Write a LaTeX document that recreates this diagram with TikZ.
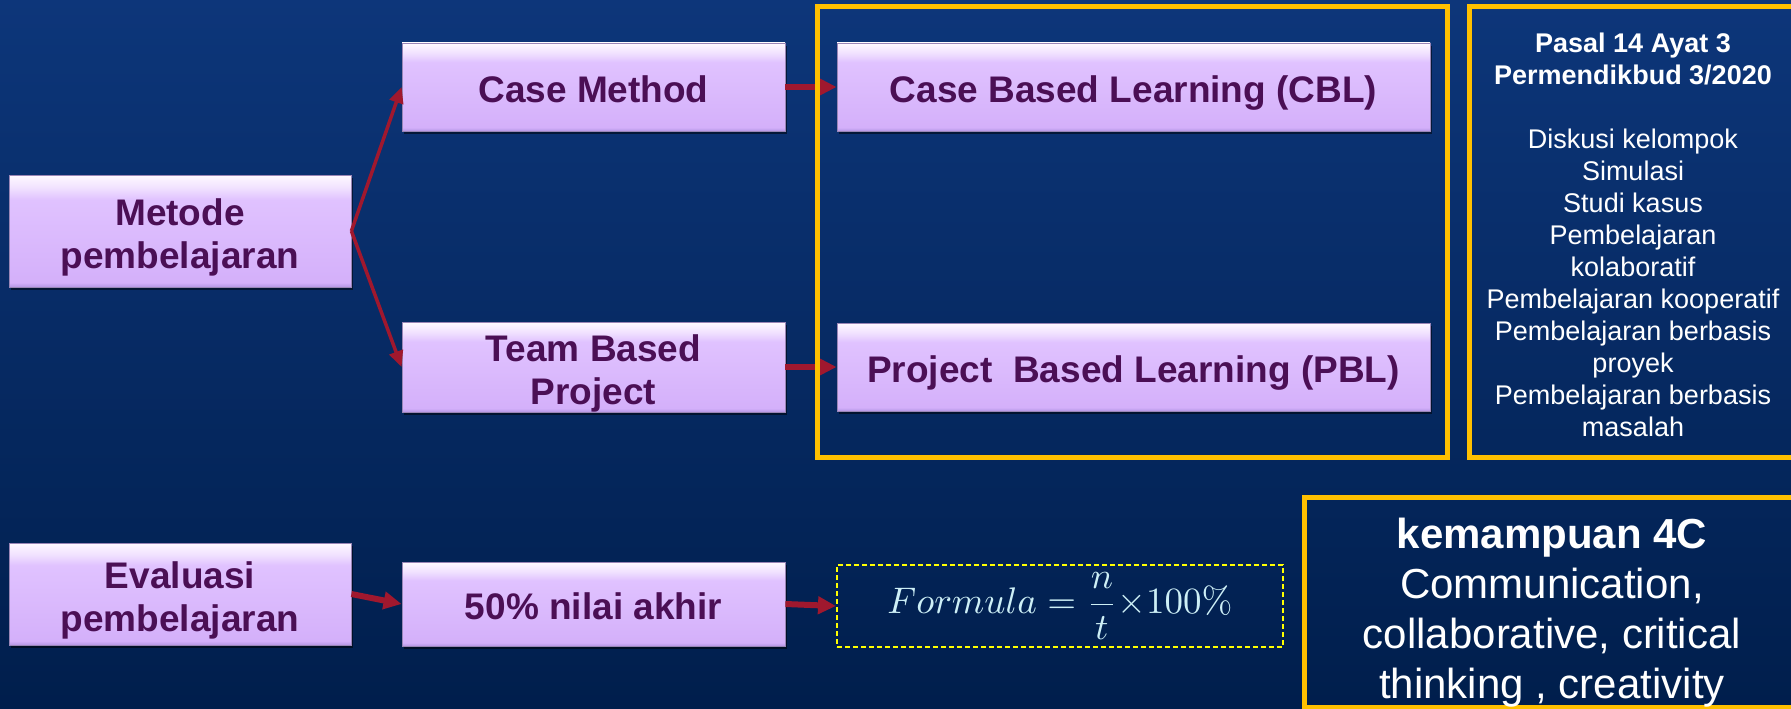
\documentclass[tikz,border=0pt]{standalone}
\usepackage[no-math]{fontspec}
\setmainfont{Liberation Sans}
\usepackage{graphicx}
\usetikzlibrary{arrows.meta,shadows}
\definecolor{bgtop}{HTML}{0D367A}
\definecolor{bgbot}{HTML}{001E4C}
\definecolor{boxtext}{HTML}{4B0F55}
\definecolor{boxedge}{HTML}{9A86B6}
\definecolor{arrowred}{HTML}{A0182E}
\definecolor{gold}{HTML}{FFC000}
\definecolor{dashy}{HTML}{FFFF00}
\definecolor{formcol}{HTML}{CDEFF6}
\definecolor{bA}{HTML}{B496E4}
\definecolor{bB}{HTML}{D4B0FA}
\definecolor{bC}{HTML}{E0C2FF}
\definecolor{bD}{HTML}{F0E0FF}
\definecolor{bE}{HTML}{FFFAFF}
\pgfdeclareverticalshading{boxshade}{100bp}{color(0bp)=(bA); color(25bp)=(bA); color(27bp)=(bB); color(64bp)=(bC); color(69bp)=(bD); color(75bp)=(bE); color(100bp)=(bE)}
\newcommand\pstrut{\rule[-7.8pt]{0pt}{47pt}}
\tikzset{
  pbox/.style={shading=boxshade, draw=boxedge, line width=0.8pt, text=boxtext,
    font=\bfseries\fontsize{37}{43}\selectfont, align=center, inner sep=0pt,
    drop shadow={shadow xshift=1.5pt, shadow yshift=-3pt, opacity=0.5, fill=black}},
  thinarrow/.style={draw=arrowred, line width=3.5pt, -{Triangle[length=16pt,width=14pt]}},
  thickarrow/.style={draw=arrowred, line width=6pt, -{Triangle[length=18pt,width=17pt]}},
  goldframe/.style={draw=gold, line width=5pt, inner sep=0pt},
}
\begin{document}
\begin{tikzpicture}[x=1pt,y=-1pt]
\useasboundingbox (0,0) rectangle (1791,709);
\shade[top color=bgtop, bottom color=bgbot] (0,0) rectangle (1791,709);

\node[pbox, minimum width=342pt, minimum height=112pt] (met) at (180,231) {\pstrut Metode\\pembelajaran};
\node[pbox, minimum width=383pt, minimum height=88pt] (cm) at (593.5,87) {\pstrut Case Method};
\node[pbox, minimum width=383pt, minimum height=88pt] (tbp) at (593.5,367) {\pstrut Team Based\\Project};
\node[pbox, minimum width=593pt, minimum height=88pt] (cbl) at (1133.5,87) {\pstrut Case Based Learning (CBL)};
\node[pbox, minimum width=593pt, minimum height=88pt] (pbl) at (1133.5,367) {\pstrut Project\ \ Based Learning (PBL)};
\node[pbox, minimum width=342pt, minimum height=102pt] (eval) at (180,594) {\pstrut Evaluasi\\pembelajaran};
\node[pbox, minimum width=383pt, minimum height=84pt] (pct) at (593.5,604) {\pstrut 50\% nilai akhir};

\node[draw=dashy, line width=2pt, dash pattern=on 5pt off 3pt, minimum width=446pt, minimum height=82pt, inner sep=0pt, text=formcol]
  (form) at (1060,606) {\raisebox{-7pt}{\scalebox{3.7}{$Formula=\displaystyle\frac{n}{t}{\times}100\%$}}};

\draw[thinarrow] (met.east) -- (cm.west);
\draw[thinarrow] (met.east) -- (tbp.west);
\draw[thickarrow] (cm.east) -- (cbl.west);
\draw[thickarrow] (tbp.east) -- (pbl.west);
\draw[thickarrow] (eval.east) -- (pct.west);
\draw[thickarrow] (pct.east) -- (form.west);

\node[goldframe, minimum width=630pt, minimum height=450.5pt] (grp) at (1132.5,231.75) {};
\node[goldframe, minimum width=327pt, minimum height=450.5pt] (pasal) at (1633,231.75) {};
\node[text=white, align=center, font=\fontsize{27}{32}\selectfont, inner sep=0pt] (pasaltxt) at (1633,235)
  {{\bfseries Pasal 14 Ayat 3}\\{\bfseries Permendikbud 3/2020}\\[32pt]
   Diskusi kelompok\\Simulasi\\Studi kasus\\Pembelajaran\\kolaboratif\\Pembelajaran kooperatif\\Pembelajaran berbasis\\proyek\\Pembelajaran berbasis\\masalah};
\node[goldframe, minimum width=496pt, minimum height=210pt] (fourc) at (1552,602) {};
\node[text=white, align=center, font=\fontsize{42}{50}\selectfont, inner sep=0pt] (fourctxt) at (1552,613)
  {{\bfseries kemampuan 4C}\\Communication,\\collaborative, critical\\thinking , creativity};
\end{tikzpicture}
\end{document}
